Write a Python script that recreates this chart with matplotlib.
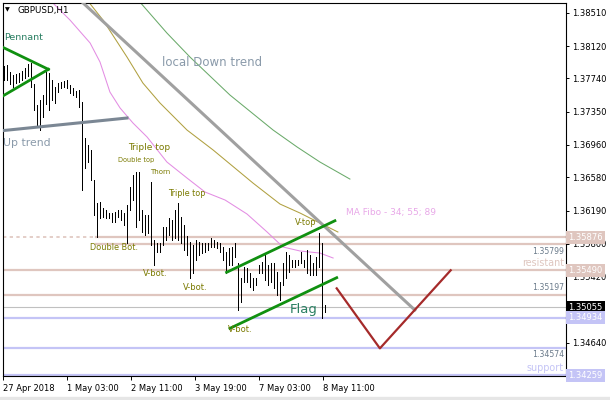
import numpy as np
import matplotlib.pyplot as plt
from matplotlib.patches import Rectangle

plt.rcParams['font.family'] = ['DejaVu Sans']

# GBPUSD H1 bars (high / low), left to right
highs = [1.3789, 1.3790, 1.3782, 1.3778, 1.3779, 1.3780, 1.3783, 1.3786, 1.3791, 1.3792,
         1.3767, 1.3743, 1.3749, 1.3755, 1.3782, 1.3780, 1.3772, 1.3764, 1.3769, 1.3770,
         1.3771, 1.3772, 1.3766, 1.3763, 1.3759, 1.3760, 1.3746, 1.3704, 1.3696, 1.3690,
         1.3655, 1.3628, 1.3629, 1.3622, 1.3620, 1.3616, 1.3616, 1.3617, 1.3620, 1.3620,
         1.3616, 1.3625, 1.3647, 1.3661, 1.3664, 1.3664, 1.3620, 1.3614, 1.3614, 1.3653,
         1.3584, 1.3581, 1.3581, 1.3600, 1.3600, 1.3610, 1.3608, 1.3620, 1.3628, 1.3611,
         1.3602, 1.3589, 1.3582, 1.3579, 1.3584, 1.3582, 1.3581, 1.3581, 1.3581, 1.3587,
         1.3584, 1.3582, 1.3581, 1.3576, 1.3570, 1.3575, 1.3576, 1.3581, 1.3558, 1.3540,
         1.3553, 1.3552, 1.3546, 1.3540, 1.3540, 1.3555, 1.3559, 1.3567, 1.3555, 1.3558,
         1.3558, 1.3547, 1.3535, 1.3558, 1.3570, 1.3567, 1.3561, 1.3561, 1.3561, 1.3570,
         1.3561, 1.3573, 1.3567, 1.3558, 1.3565, 1.3593, 1.3581, 1.3508]
lows = [1.3772, 1.3772, 1.3767, 1.3764, 1.3769, 1.3770, 1.3772, 1.3775, 1.3777, 1.3764,
        1.3737, 1.3719, 1.3713, 1.3729, 1.3744, 1.3737, 1.3749, 1.3745, 1.3758, 1.3763,
        1.3764, 1.3763, 1.3757, 1.3755, 1.3752, 1.3740, 1.3643, 1.3669, 1.3676, 1.3655,
        1.3614, 1.3588, 1.3610, 1.3611, 1.3610, 1.3610, 1.3606, 1.3606, 1.3611, 1.3608,
        1.3602, 1.3581, 1.3620, 1.3631, 1.3600, 1.3608, 1.3594, 1.3590, 1.3593, 1.3579,
        1.3555, 1.3570, 1.3570, 1.3579, 1.3584, 1.3590, 1.3584, 1.3587, 1.3584, 1.3581,
        1.3573, 1.3567, 1.3540, 1.3546, 1.3561, 1.3567, 1.3569, 1.3570, 1.3573, 1.3576,
        1.3576, 1.3575, 1.3570, 1.3561, 1.3546, 1.3555, 1.3555, 1.3565, 1.3502, 1.3512,
        1.3535, 1.3535, 1.3529, 1.3526, 1.3532, 1.3546, 1.3546, 1.3538, 1.3532, 1.3535,
        1.3528, 1.3520, 1.3514, 1.3532, 1.3540, 1.3547, 1.3553, 1.3553, 1.3555, 1.3558,
        1.3553, 1.3546, 1.3543, 1.3543, 1.3543, 1.3553, 1.3493, 1.3500]

time_labels = ['27 Apr 2018', '1 May 03:00', '2 May 11:00', '3 May 19:00',
               '7 May 03:00', '8 May 11:00']
price_ticks = [1.38510, 1.38120, 1.37740, 1.37350, 1.36960, 1.36580,
               1.36190, 1.35800, 1.35420, 1.34640]

# horizontal levels
resist_levels = [1.35876, 1.35799, 1.35490, 1.35197]
support_levels = [1.34934, 1.34574, 1.34259]
current_price = 1.35055

# moving averages (Fibo 34 / 55 / 89): (bar, price)
ma34_x = [15.3, 22.0, 28.7, 32.0, 35.3, 38.7, 43.0, 47.7, 54.3, 61.0, 67.0, 73.7,
          81.0, 87.7, 93.0, 98.7, 105.3, 109.7]
ma34_y = [1.38660, 1.38425, 1.38156, 1.37933, 1.37581, 1.37393, 1.37217, 1.37053,
          1.36760, 1.36572, 1.36408, 1.36314, 1.36150, 1.35939, 1.35763, 1.35716,
          1.35692, 1.35634]
ma55_x = [27.7, 33.0, 41.0, 46.3, 52.0, 61.0, 69.7, 83.0, 92.0, 98.7, 105.3, 111.3]
ma55_y = [1.38660, 1.38425, 1.37991, 1.37686, 1.37452, 1.37135, 1.36901, 1.36513,
          1.36267, 1.36161, 1.36044, 1.35939]
ma89_x = [44.7, 54.3, 62.0, 75.3, 89.7, 97.7, 105.3, 115.3]
ma89_y = [1.38660, 1.38273, 1.37991, 1.37546, 1.37135, 1.36936, 1.36760, 1.36560]

# drawn objects: (bar, price) end points
down_trend = ([25.3, 137.3], [1.38660, 1.35012])
up_trend = ([-0.8, 41.0], [1.37127, 1.37276])
pennant_top = ([-0.8, 14.8], [1.38112, 1.37847])
pennant_bot = ([-0.8, 14.8], [1.37526, 1.37847])
flag_top = ([74.2, 110.3], [1.35466, 1.36071])
flag_bot = ([75.3, 110.9], [1.34809, 1.35403])
forecast = ([110.9, 125.3, 148.9], [1.35278, 1.34574, 1.35490])

PINK = '#dfc6bf'
BLUE = '#c4c4f6'
OLIVE = '#7a7a00'
GREEN_TXT = '#2a7f62'

fig = plt.figure(figsize=(6.1, 4.0), dpi=100)
ax = fig.add_axes([3 / 610, 24 / 400, 563 / 610, 373 / 400])
fig.patches.append(Rectangle((0, 0), 1, 3 / 400, transform=fig.transFigure,
                             color='#e6e6e6', zorder=0))

x = np.arange(len(highs))
ax.set_xlim(-0.333, 187.333)
ax.set_ylim(1.34250, 1.38625)

# levels
ax.plot([-0.333, 30.7], [resist_levels[0]] * 2, color=PINK, lw=1.2,
        ls=(0, (2, 2)), zorder=1)
ax.plot([30.7, 187.333], [resist_levels[0]] * 2, color=PINK, lw=1.6, zorder=1)
ax.plot([30.7, 187.333], [resist_levels[1]] * 2, color=PINK, lw=1.6, zorder=1)
for lvl in resist_levels[2:]:
    ax.axhline(lvl, color=PINK, lw=1.6, zorder=1)
for lvl in support_levels:
    ax.axhline(lvl, color=BLUE, lw=1.6, zorder=1)
ax.axhline(current_price, color='#c0c0c0', lw=0.8, zorder=1)

# moving averages
ax.plot(ma34_x, ma34_y, color='#e38de3', lw=0.75, zorder=2)
ax.plot(ma55_x, ma55_y, color='#b0a040', lw=0.75, zorder=2)
ax.plot(ma89_x, ma89_y, color='#6aaa6a', lw=0.75, zorder=2)

# bars
ax.vlines(x, lows, highs, color='black', lw=0.72, zorder=3, antialiased=False)

# trend lines and patterns
ax.plot(*down_trend, color='#a0a0a0', lw=2.2, zorder=4, solid_capstyle='butt')
ax.plot(*up_trend, color='#7b8794', lw=2.2, zorder=4)
for ln in (pennant_top, pennant_bot, flag_top, flag_bot):
    ax.plot(*ln, color='#109010', lw=2.0, zorder=4)
ax.plot(*forecast, color='#a52a2a', lw=1.6, zorder=4)


def at(px, py):
    return (px - 3) / 563, (376 - py) / 373


def label(px, py, s, size, color, ha='left'):
    ax.text(*at(px, py), s, transform=ax.transAxes, fontsize=size, color=color,
            ha=ha, va='center', zorder=5)


label(5, 10, '\u25bc', 4.5, 'black')
label(17, 10, 'GBPUSD,H1', 6.3, 'black')
label(4, 37.5, 'Pennant', 6.8, GREEN_TXT)
label(162, 62, 'local Down trend', 8.5, '#8a9aaa')
label(3, 143, 'Up trend', 7.8, '#8a9aaa')
label(128, 148, 'Triple top', 6.5, OLIVE)
label(118, 160, 'Double top', 4.7, OLIVE)
label(150, 172.5, 'Thorn', 5.0, OLIVE)
label(168, 193, 'Triple top', 5.8, OLIVE)
label(90, 248, 'Double Bot.', 5.9, OLIVE)
label(143, 274, 'V-bot.', 6.0, OLIVE)
label(183, 288, 'V-bot.', 6.0, OLIVE)
label(228, 330, 'V-bot.', 6.0, OLIVE)
label(295, 222.5, 'V-top', 5.9, OLIVE)
label(290, 309, 'Flag', 9.5, GREEN_TXT)
label(346, 212, 'MA Fibo - 34; 55; 89', 6.5, '#e8a8e8')
label(564, 262.5, 'resistant', 6.9, PINK, ha='right')
label(564, 368, 'support', 6.9, BLUE, ha='right')
label(564, 251, '1.35799', 5.6, '#6a7a8a', ha='right')
label(564, 288, '1.35197', 5.6, '#6a7a8a', ha='right')
label(564, 354.5, '1.34574', 5.6, '#6a7a8a', ha='right')

# axes styling
for sp in ax.spines.values():
    sp.set_linewidth(0.8)
ax.yaxis.tick_right()
ax.set_yticks(price_ticks)
ax.set_yticklabels([f'{v:.5f}' for v in price_ticks])
ax.tick_params(axis='y', direction='out', length=2.5, width=0.7, pad=2, labelsize=6)
ax.set_xticks(np.arange(len(time_labels)) * 64 / 3 - 0.333)
ax.set_xticklabels(time_labels, ha='left')
ax.tick_params(axis='x', direction='out', length=3, width=0.7, pad=2.5, labelsize=6)

# price boxes on the axis
ytr = ax.get_yaxis_transform()
boxes = [(resist_levels[0], PINK, 'white'), (resist_levels[2], PINK, 'white'),
         (current_price, 'black', 'white'), (support_levels[0], BLUE, 'white'),
         (support_levels[2], BLUE, 'white')]
for val, bg, fg in boxes:
    ax.text(1.004, val, f'{val:.5f}', transform=ytr, fontsize=6, color=fg,
            ha='left', va='center', zorder=6, clip_on=False,
            bbox=dict(boxstyle='square,pad=0.25', fc=bg, ec='none'))

fig.savefig('out.png', dpi=100)
